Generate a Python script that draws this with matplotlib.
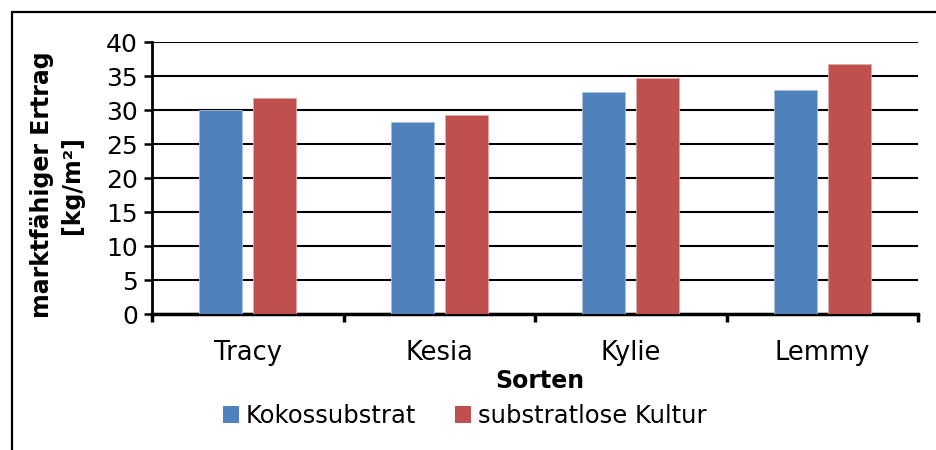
import matplotlib
matplotlib.use("Agg")
import matplotlib.pyplot as plt
import numpy as np
from matplotlib.patches import Rectangle, Patch

categories = ["Tracy", "Kesia", "Kylie", "Lemmy"]
series_names = ["Kokossubstrat", "substratlose Kultur"]
kokos = [30.0, 28.2, 32.7, 32.9]
substratlos = [31.8, 29.2, 34.7, 36.7]
yticks = [0, 5, 10, 15, 20, 25, 30, 35, 40]

plt.rcParams['font.family'] = ['DejaVu Sans']

fig = plt.figure(figsize=(9.36, 4.5), dpi=100)
ax = fig.add_axes([152/936, 1-314/450, (918-152)/936, (314-42)/450])

x = np.arange(len(categories))
w = 0.225
off = 0.142
ax.bar(x - off, kokos, w, color="#4F81BD", edgecolor="#A7C0DE", linewidth=0.6, zorder=3)
ax.bar(x + off, substratlos, w, color="#C0504D", edgecolor="#DFA8A6", linewidth=0.6, zorder=3)

ax.set_xlim(-0.5, len(categories) - 0.5)
ax.set_ylim(0, 40)
ax.set_yticks(yticks)
ax.tick_params(axis='y', labelsize=18, length=6, width=1.8, direction='out', pad=4)
ax.yaxis.grid(True, color='black', linewidth=1.5, zorder=0)
ax.set_axisbelow(True)

ax.set_xticks(x)
ax.set_xticklabels(categories, fontsize=18.5)
ax.tick_params(axis='x', length=0, pad=19)
ax.set_xticks(np.arange(-0.5, len(categories)), minor=True)
ax.tick_params(axis='x', which='minor', length=6, width=2.5, direction='out')

for s in ['top', 'right']:
    ax.spines[s].set_visible(False)
ax.spines['left'].set_linewidth(2.0)
ax.spines['bottom'].set_linewidth(2.5)

fig.text(42/936, 1-185/450, "marktfähiger Ertrag", rotation=90, fontsize=17,
         fontweight='bold', ha='center', va='center')
fig.text(72/936, 1-185/450, "[kg/m²]", rotation=90, fontsize=17,
         fontweight='bold', ha='center', va='center')
fig.text(540/936, 1-381/450, "Sorten", fontsize=17, fontweight='bold',
         ha='center', va='center')

handles = [Patch(facecolor="#4F81BD"), Patch(facecolor="#C0504D")]
leg = fig.legend(handles, series_names, loc='center', bbox_to_anchor=(465/936, 1-416/450),
                 ncol=2, frameon=False, fontsize=17.5, handlelength=0.65, handleheight=0.65,
                 handletextpad=0.3, columnspacing=1.6, borderpad=0)

fig.patches.append(Rectangle((12/936, -0.1), 1.2, 1.1 - 12/450, transform=fig.transFigure,
                             fill=False, edgecolor='black', linewidth=1.6, zorder=10))

fig.savefig("out.png", dpi=100)
